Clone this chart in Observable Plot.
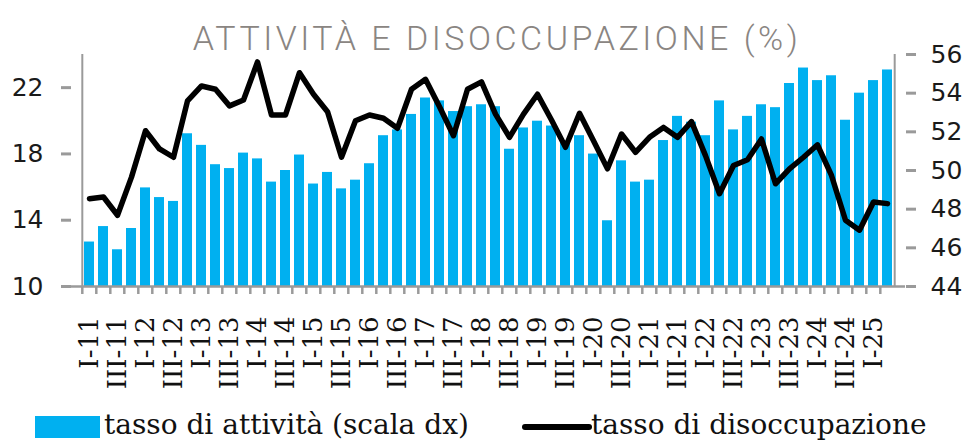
<!DOCTYPE html>
<html>
<head>
<meta charset="utf-8">
<script src="https://cdn.jsdelivr.net/npm/d3@7"></script>
<script src="https://cdn.jsdelivr.net/npm/@observablehq/plot@0.6"></script>
<style>
  body { margin: 0; background: #fff; }
  #wrap { position: relative; width: 966px; height: 442px; overflow: hidden; }
  #title { position: absolute; top: 21px; left: 14px; width: 966px; text-align: center;
           font-family: Roboto, "Liberation Sans", sans-serif; font-weight: 300; font-size: 34px;
           line-height: 34px; letter-spacing: 3.5px; color: #8a8582; white-space: nowrap; }
  #chart { position: absolute; top: 40px; left: 0; }
  #legend { position: absolute; top: 400px; left: 0; width: 966px; height: 42px;
            font-family: "DejaVu Serif", serif; font-size: 28px; color: #111; }
  .sw { position: absolute; }
  .lt { position: absolute; top: 10px; line-height: 30px; white-space: nowrap; }
</style>
</head>
<body>
<div id="wrap">
  <div id="chart"></div>
  <div id="title">ATTIVITÀ E DISOCCUPAZIONE (%)</div>
  <div id="legend">
    <div class="sw" style="left:35px;top:16px;width:65px;height:22px;background:#00B0F0"></div>
    <div class="lt" style="left:104px">tasso di attività (scala dx)</div>
    <div class="sw" style="left:522px;top:24px;width:70px;height:6px;background:#000;border-radius:3px"></div>
    <div class="lt" style="left:591px">tasso di disoccupazione</div>
  </div>
</div>
<script>
const quarters = [
  "I-11","II-11","III-11","IV-11","I-12","II-12","III-12","IV-12",
  "I-13","II-13","III-13","IV-13","I-14","II-14","III-14","IV-14",
  "I-15","II-15","III-15","IV-15","I-16","II-16","III-16","IV-16",
  "I-17","II-17","III-17","IV-17","I-18","II-18","III-18","IV-18",
  "I-19","II-19","III-19","IV-19","I-20","II-20","III-20","IV-20",
  "I-21","II-21","III-21","IV-21","I-22","II-22","III-22","IV-22",
  "I-23","II-23","III-23","IV-23","I-24","II-24","III-24","IV-24",
  "I-25","II-25"
];
// tasso di attività (scala dx)
const activity = [
  46.3, 47.1, 45.9, 47.0, 49.1, 48.6, 48.4, 51.9,
  51.3, 50.3, 50.1, 50.9, 50.6, 49.4, 50.0, 50.8,
  49.3, 49.9, 49.05, 49.5, 50.35, 51.8, 52.1, 52.9,
  53.75, 53.6, 53.05, 53.3, 53.4, 53.3, 51.1, 52.2,
  52.55, 52.3, 51.5, 51.8, 50.85, 47.4, 50.5, 49.4,
  49.5, 51.55, 52.8, 52.5, 51.8, 53.6, 52.1, 52.8,
  53.4, 53.25, 54.5, 55.3, 54.65, 54.9, 52.6, 54.0,
  54.65, 55.2
];
// tasso di disoccupazione (scala sx)
const unemployment = [
  15.3, 15.4, 14.3, 16.6, 19.4, 18.3, 17.8, 21.2,
  22.1, 21.9, 20.9, 21.25, 23.55, 20.35, 20.35, 22.9,
  21.6, 20.55, 17.8, 20.0, 20.35, 20.15, 19.55, 21.9,
  22.5, 20.85, 19.1, 21.9, 22.35, 20.4, 19.0, 20.4,
  21.6, 20.05, 18.4, 20.45, 18.8, 17.1, 19.2, 18.1,
  19.0, 19.6, 19.0, 19.95, 17.9, 15.6, 17.3, 17.65,
  18.9, 16.2, 17.1, 17.8, 18.55, 16.7, 14.0, 13.4,
  15.1, 15.0
];
const leftTicks = [10, 14, 18, 22];
const rightTicks = [44, 46, 48, 50, 52, 54, 56];
const leftDomain = [10, 24];
const rightDomain = [44, 56];

const data = quarters.map((q, i) => ({q, act: activity[i], dis: unemployment[i]}));
const toR = v => rightDomain[0] + (v - leftDomain[0]) * (rightDomain[1] - rightDomain[0]) / (leftDomain[1] - leftDomain[0]);
const fromR = v => leftDomain[0] + (v - rightDomain[0]) * (leftDomain[1] - leftDomain[0]) / (rightDomain[1] - rightDomain[0]);

const W = 966, H = 360, mt = 14, mb = 114, ml = 71, mr = 61;
const step = (W - ml - mr) / quarters.length;
const axisGray = "#9a9a9a";

const chart = Plot.plot({
  width: W, height: H,
  marginTop: mt, marginBottom: mb, marginLeft: ml, marginRight: mr,
  style: {fontFamily: "DejaVu Sans, sans-serif", color: "#1a1a1a", background: "transparent", overflow: "visible"},
  x: {domain: quarters, paddingInner: 0.3, paddingOuter: 0.15, axis: null},
  y: {domain: rightDomain, axis: null},
  marks: [
    Plot.barY(data, {x: "q", y1: rightDomain[0], y2: "act", fill: "#00B0F0"}),
    Plot.ruleY([rightDomain[0]], {stroke: axisGray, strokeWidth: 2.5}),
    Plot.ruleX([quarters[0]], {dx: -step / 2, y1: rightDomain[0], y2: rightDomain[1], stroke: axisGray, strokeWidth: 2}),
    Plot.ruleX([quarters[quarters.length - 1]], {dx: step / 2, y1: rightDomain[0], y2: rightDomain[1], stroke: axisGray, strokeWidth: 2}),
    Plot.line(data, {x: "q", y: d => toR(d.dis), stroke: "#000", strokeWidth: 5.5, strokeLinejoin: "round", strokeLinecap: "round"}),
    Plot.axisY(rightTicks, {anchor: "right", label: null, tickSize: 10, tickPadding: 15, stroke: axisGray, strokeWidth: 3, fill: "#1a1a1a", fontSize: 25, tickFormat: d => String(d)}),
    Plot.axisY(leftTicks.map(toR), {anchor: "left", label: null, tickSize: 10, tickPadding: 18, stroke: axisGray, strokeWidth: 3, fill: "#1a1a1a", fontSize: 25, tickFormat: d => String(Math.round(fromR(d)))}),
    Plot.axisX(quarters.filter((d, i) => i % 2 === 0), {anchor: "bottom", label: null, tickSize: 0, tickPadding: 30, tickRotate: -90, fontFamily: "DejaVu Serif, serif", fontSize: 26, fill: "#111"}),
    Plot.axisX(quarters, {anchor: "bottom", label: null, tickSize: 8, tickFormat: () => "", dx: -step / 2, stroke: axisGray, strokeWidth: 2.5})
  ]
});
document.getElementById("chart").appendChild(chart);
</script>
</body>
</html>
